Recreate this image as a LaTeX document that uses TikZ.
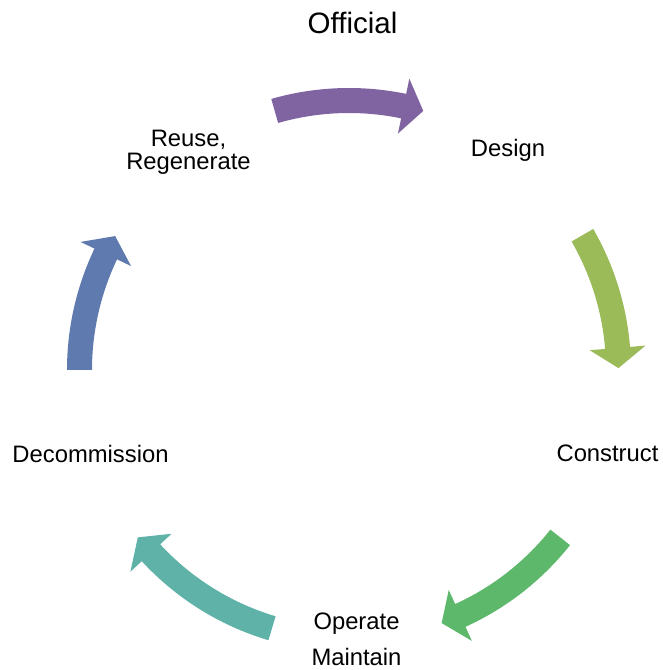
\documentclass[tikz,border=0pt]{standalone}
\usepackage{fontspec}
\setmainfont{Liberation Sans}
\definecolor{cycpurple}{HTML}{8064A2}
\definecolor{cyclime}{HTML}{9BBB59}
\definecolor{cycgreen}{HTML}{5DB86B}
\definecolor{cycteal}{HTML}{5EB2A8}
\definecolor{cycblue}{HTML}{5F7AAE}
\begin{document}
\begin{tikzpicture}[x=1pt,y=1pt,
  stage/.style={align=center,anchor=base,inner sep=0pt,font=\fontsize{23.8}{23}\selectfont},
  heading/.style={anchor=base,inner sep=0pt,font=\fontsize{29.5}{30}\selectfont}]
\useasboundingbox (0,0) rectangle (662,670);
\coordinate (hub) at (349,300);
\node[heading] (title) at (352.5,636) {Official};
\node[stage] (design) at (508,513) {Design};
\node[stage] (construct) at (607.5,208) {Construct};
\node[stage] (operate) at (356.5,5) {Operate\\[13pt]Maintain};
\node[stage] (decom) at (90.5,207) {Decommission};
\node[stage] (reuse) at (188.5,500) {Reuse,\\Regenerate};
% curved block arrows round the hub
\begin{scope}[shift={(hub)}]
\fill[cycpurple] (106:282) arc[start angle=106,end angle=78.3,radius=282] -- (78.3:297.5)
  -- (74:269.5) -- (78.3:241.5) -- (78.3:257) arc[start angle=78.3,end angle=106,radius=257] -- cycle;
\fill[cyclime] (30:282) arc[start angle=30,end angle=4.7,radius=282] -- (4.7:297.5)
  -- (0.4:269.5) -- (4.7:241.5) -- (4.7:257) arc[start angle=4.7,end angle=30,radius=257] -- cycle;
\fill[cycgreen] (-38.4:282) arc[start angle=-38.4,end angle=-65.6,radius=282] -- (-65.6:297.5)
  -- (-69.9:269.5) -- (-65.6:241.5) -- (-65.6:257) arc[start angle=-65.6,end angle=-38.4,radius=257] -- cycle;
\fill[cycteal] (-106.6:282) arc[start angle=-106.6,end angle=-137.3,radius=282] -- (-137.3:297.5)
  -- (-141.6:269.5) -- (-137.3:241.5) -- (-137.3:257) arc[start angle=-137.3,end angle=-106.6,radius=257] -- cycle;
\fill[cycblue] (180:282) arc[start angle=180,end angle=154.5,radius=282] -- (154.5:297.5)
  -- (150.2:269.5) -- (154.5:241.5) -- (154.5:257) arc[start angle=154.5,end angle=180,radius=257] -- cycle;
\end{scope}
\end{tikzpicture}
\end{document}
